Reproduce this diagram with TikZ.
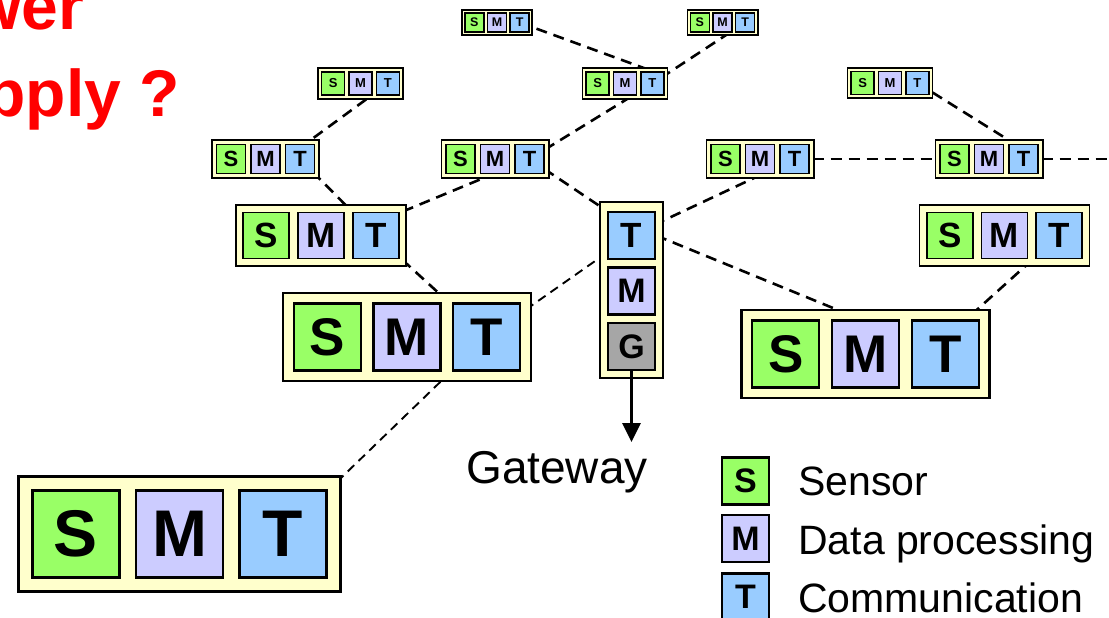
\documentclass[tikz,border=0pt]{standalone}
\usepackage{fontspec}
\setmainfont{Liberation Sans}
\usetikzlibrary{calc,arrows.meta,backgrounds}
\definecolor{sgreen}{HTML}{99FF66}
\definecolor{mlav}{HTML}{CCCCFF}
\definecolor{tblue}{HTML}{99CCFF}
\definecolor{ggray}{HTML}{A6A6A6}
\definecolor{fyellow}{HTML}{FFFFCC}
\tikzset{
  frame/.style={draw=black, fill=fyellow, inner sep=0pt, rectangle},
  sq/.style={draw=black, inner sep=0pt, rectangle, minimum size=#1},
  link/.style={draw=black, line width=2.6pt, dash pattern=on 11pt off 7pt},
  thinlink/.style={draw=black, line width=1.9pt, dash pattern=on 9pt off 6pt},
}
\newcommand{\smtunit}[5]{%
 \pgfmathsetmacro{\gp}{0.19*#4}%
 \pgfmathsetmacro{\pd}{0.16*#4}%
 \pgfmathsetmacro{\fw}{3*#4+2*\gp+2*\pd}%
 \pgfmathsetmacro{\fh}{#4+2*\pd}%
 \pgfmathsetmacro{\lw}{max(1.7,0.033*#4)}%
 \pgfmathsetmacro{\off}{#4+\gp}%
 \node[frame, minimum width=\fw pt, minimum height=\fh pt, line width=\lw pt] (#1) at (#2,#3) {};
 \node[sq=#4 pt, fill=sgreen, line width=\lw pt, font=\bfseries\fontsize{#5}{#5}\selectfont] (#1s) at (#2-\off,#3) {S};
 \node[sq=#4 pt, fill=mlav, line width=\lw pt, font=\bfseries\fontsize{#5}{#5}\selectfont] (#1m) at (#2,#3) {M};
 \node[sq=#4 pt, fill=tblue, line width=\lw pt, font=\bfseries\fontsize{#5}{#5}\selectfont] (#1t) at (#2+\off,#3) {T};
}
\begin{document}
\begin{tikzpicture}[x=1pt,y=-1pt]
\useasboundingbox (0,0) rectangle (1109,618);

% title
\node[anchor=base east, text=red, font=\bfseries\fontsize{66}{66}\selectfont, inner sep=0pt] (title1) at (84,30) {Power};
\node[anchor=base east, text=red, font=\bfseries\fontsize{66}{66}\selectfont, inner sep=0pt] (title2) at (180,116) {supply ?};

% units
\smtunit{a1}{497}{22.5}{19}{12.5}
\smtunit{a2}{722.5}{22.5}{19}{12.5}
\smtunit{a3}{360.5}{83.5}{23}{13}
\smtunit{a4}{625}{83.5}{23}{13}
\smtunit{a5}{890}{83}{23}{13}
\smtunit{b1}{265.5}{159}{29}{22}
\smtunit{b2}{495}{159}{29}{22}
\smtunit{b3}{760}{159}{29}{22}
\smtunit{b4}{989}{159}{29}{22}
\smtunit{c1}{321}{235.5}{46}{35}
\smtunit{c2}{1004.5}{235.5}{46}{35}
\smtunit{d1}{407}{337}{67}{53}
\smtunit{d2}{865.5}{354}{67}{53}
\smtunit{e1}{179.5}{534}{87}{66}

% gateway
\node[frame, minimum width=63pt, minimum height=176pt, line width=2.2pt] (gw) at (631.5,290) {};
\node[sq=47pt, fill=tblue, line width=2.2pt, font=\bfseries\fontsize{35}{35}\selectfont] (gwt) at (631.5,235.5) {T};
\node[sq=47pt, fill=mlav, line width=2.2pt, font=\bfseries\fontsize{34}{34}\selectfont] (gwm) at (631.5,291) {M};
\node[sq=47pt, fill=ggray, line width=2.2pt, font=\bfseries\fontsize{34}{34}\selectfont] (gwg) at (631.5,346.5) {G};
\coordinate (gwout) at (631.5,442);
\draw[line width=3pt, -{Triangle[width=18pt,length=19pt]}] (gwg.south) -- (gwout);
\node[anchor=base, font=\fontsize{46}{46}\selectfont, inner sep=0pt] (gwlabel) at (557,483) {Gateway};

% legend
\node[sq=47pt, fill=sgreen, line width=2.2pt, font=\bfseries\fontsize{34}{34}\selectfont] (legs) at (745.5,481) {S};
\node[sq=47pt, fill=mlav, line width=2.2pt, font=\bfseries\fontsize{34}{34}\selectfont] (legm) at (745.5,538.5) {M};
\node[sq=47pt, fill=tblue, line width=2.2pt, font=\bfseries\fontsize{34}{34}\selectfont] (legt) at (745.5,597) {T};
\node[anchor=base west, font=\fontsize{41}{41}\selectfont, inner sep=0pt] (legst) at (798,495) {Sensor};
\node[anchor=base west, font=\fontsize{41}{41}\selectfont, inner sep=0pt] (legmt) at (798,554) {Data processing};
\node[anchor=base west, font=\fontsize{41}{41}\selectfont, inner sep=0pt] (legtt) at (798,612) {Communication};

\coordinate (offright) at (1109,159);

% links
\begin{pgfonlayer}{background}
\draw[link] (a1t.center) -- (a4t.north);
\draw[link] (a2t.center) -- (a4t.center);
\draw[link] (b2t.center) -- (a4t.center);
\draw[link] (b1t.west) -- (a3t.center);
\draw[link] (b2t.center) -- (c1m.east);
\draw[link] (b1t.center) -- (c1t.center);
\draw[link] (c1t.center) -- (d1t.center);
\draw[link] (b2t.center) -- (gwt.north west);
\draw[link] (b3t.center) -- (gwt.center);
\draw[thinlink] (gwt.center) -- (d1t.center);
\draw[link] (gwt.east) -- (d2t.center);
\draw[link] (b3t.center) -- (b4s.center);
\draw[link] (b4t.center) -- (offright);
\draw[link] (a5t.center) -- (b4t.east);
\draw[link] (c2t.center) -- ($(d2t.center)!0.5!(d2t.west)$);
\draw[thinlink] (e1t.center) -- (d1t.center);
\end{pgfonlayer}
\end{tikzpicture}
\end{document}
